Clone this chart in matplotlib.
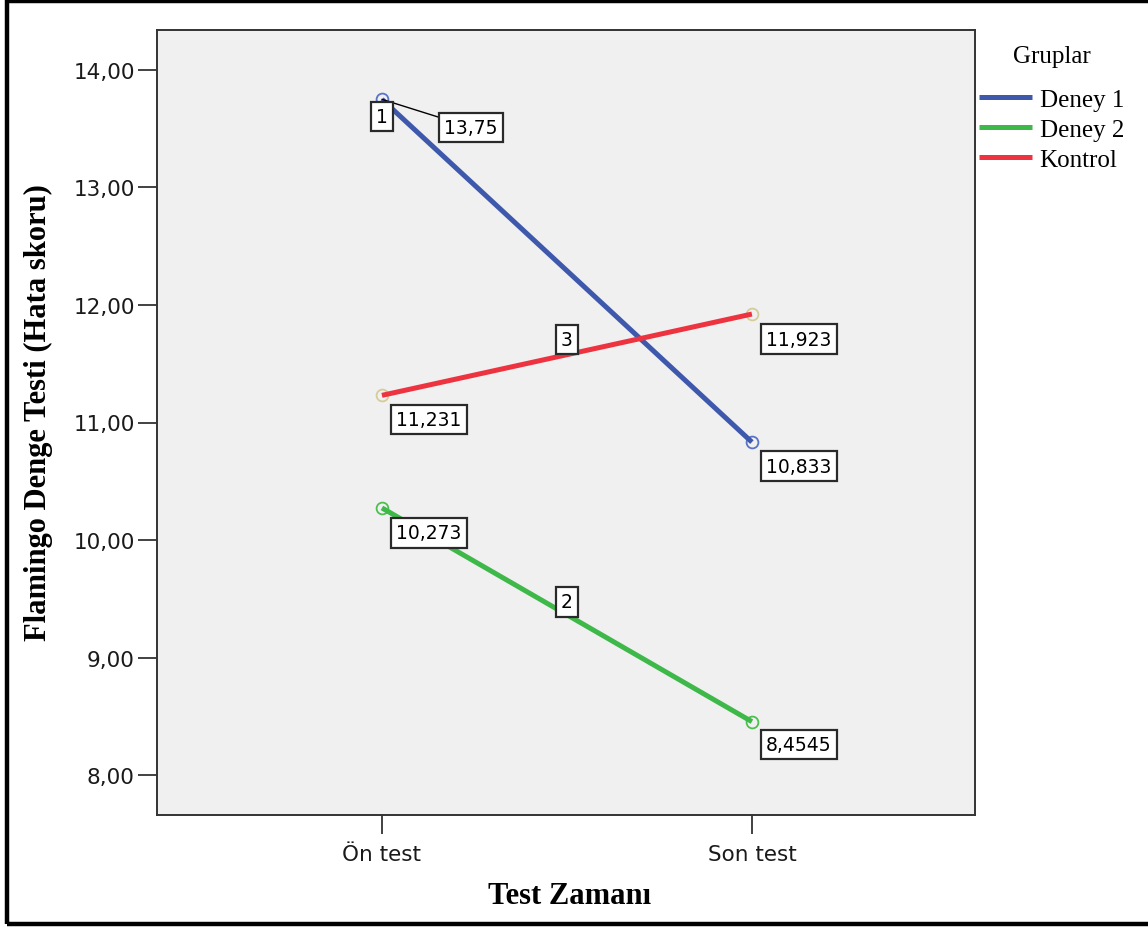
import matplotlib
matplotlib.use("Agg")
import matplotlib.pyplot as plt
from matplotlib.patches import Rectangle
from matplotlib.ticker import FuncFormatter

# ---- data ----
categories = ["Ön test", "Son test"]
groups = ["Deney 1", "Deney 2", "Kontrol"]
deney1 = [13.75, 10.833]
deney2 = [10.273, 8.4545]
kontrol = [11.231, 11.923]
value_labels = {
    "Deney 1": ["13,75", "10,833"],
    "Deney 2": ["10,273", "8,4545"],
    "Kontrol": ["11,231", "11,923"],
}
line_ids = {"Deney 1": "1", "Deney 2": "2", "Kontrol": "3"}
yticks = [8, 9, 10, 11, 12, 13, 14]

colors = {"Deney 1": "#3e58ac", "Deney 2": "#3fb84a", "Kontrol": "#ee3340"}
marker_colors = {"Deney 1": "#5a72c8", "Deney 2": "#4cc04f", "Kontrol": "#d5cc98"}

W, H = 1148, 928
fig = plt.figure(figsize=(W / 100, H / 100), dpi=100)
fig.patch.set_facecolor("white")

ax = fig.add_axes([157 / W, (H - 816) / H, (975 - 157) / W, (816 - 31) / H])
ax.set_facecolor("#f0f0f0")

x = list(range(len(categories)))
series = {"Deney 1": deney1, "Deney 2": deney2, "Kontrol": kontrol}

for g in groups:
    vals = series[g]
    ax.plot(x, vals, linestyle="none", marker="o", markersize=8.5,
            markerfacecolor="none", markeredgecolor=marker_colors[g],
            markeredgewidth=1.3, zorder=3)
    ax.plot(x, vals, color=colors[g], lw=3.6, solid_capstyle="butt",
            zorder=4, label=g)

box = dict(boxstyle="square,pad=0.28", fc="white", ec="#2a2a2a", lw=1.6)
lab_font = dict(family="DejaVu Sans", size=13.5, color="black")

# value labels
offsets = {
    ("Deney 1", 0): (89, -28),
    ("Deney 1", 1): (47, -24),
    ("Deney 2", 0): (47, -25),
    ("Deney 2", 1): (47, -23),
    ("Kontrol", 0): (47, -24),
    ("Kontrol", 1): (47, -25),
}
for g in groups:
    for i, v in enumerate(series[g]):
        kw = {}
        if (g, i) == ("Deney 1", 0):
            kw["arrowprops"] = dict(arrowstyle="-", color="black", lw=1,
                                    shrinkA=0, shrinkB=0)
        ax.annotate(value_labels[g][i], xy=(x[i], v), xytext=offsets[(g, i)],
                    textcoords="offset pixels", ha="center", va="center",
                    bbox=box, zorder=6, **kw, **lab_font)

# line id labels
ax.annotate(line_ids["Deney 1"], xy=(x[0], deney1[0]), xytext=(0, -17),
            textcoords="offset pixels", ha="center", va="center",
            bbox=box, zorder=6, **lab_font)
mid = 0.5
ax.annotate(line_ids["Kontrol"], xy=(mid, (kontrol[0] + kontrol[1]) / 2),
            xytext=(0, 15), textcoords="offset pixels", ha="center",
            va="center", bbox=box, zorder=6, **lab_font)
ax.annotate(line_ids["Deney 2"], xy=(mid, (deney2[0] + deney2[1]) / 2),
            xytext=(0, 13), textcoords="offset pixels", ha="center",
            va="center", bbox=box, zorder=6, **lab_font)

ax.set_xlim(-0.608, 1.603)
ax.set_ylim(7.66, 14.34)
ax.set_xticks(x)
ax.set_xticklabels(categories)
ax.set_yticks(yticks)
ax.yaxis.set_major_formatter(FuncFormatter(lambda v, p: f"{v:.2f}".replace(".", ",")))
for lbl in ax.get_xticklabels() + ax.get_yticklabels():
    lbl.set_family("DejaVu Sans")
    lbl.set_fontsize(15.5)
    lbl.set_color("#1a1a1a")
ax.tick_params(axis="both", direction="out", length=14, width=1.3,
               color="#333333")
ax.tick_params(axis="y", pad=2)
ax.tick_params(axis="x", pad=7)
for s in ax.spines.values():
    s.set_color("#333333")
    s.set_linewidth(1.4)

# axis titles
fig.text(38 / W, 1 - 413 / H, "Flamingo Denge Testi (Hata skoru)",
         rotation=90, ha="center", va="center", family="Liberation Serif",
         fontweight="bold", fontsize=22)
fig.text(570 / W, 1 - 897 / H, "Test Zamanı", ha="center", va="center",
         family="Liberation Serif", fontweight="bold", fontsize=22)

# legend
leg = fig.legend(loc="upper left", bbox_to_anchor=(977 / W, 1 - 44 / H),
                 frameon=False, title="Gruplar",
                 prop=dict(family="Liberation Serif", size=18),
                 handlelength=2.1, handletextpad=0.3, labelspacing=0.3,
                 borderaxespad=0, borderpad=0.1)
leg.get_title().set_family("Liberation Serif")
leg.get_title().set_fontsize(18)
leg._legend_box.sep = 15

# outer frame
fig.patches.append(Rectangle((7 / W, 3.5 / H), 1.2, 1 - 5 / H,
                             transform=fig.transFigure, fill=False,
                             ec="black", lw=3.2, zorder=10))

fig.savefig("out.png", dpi=100)
